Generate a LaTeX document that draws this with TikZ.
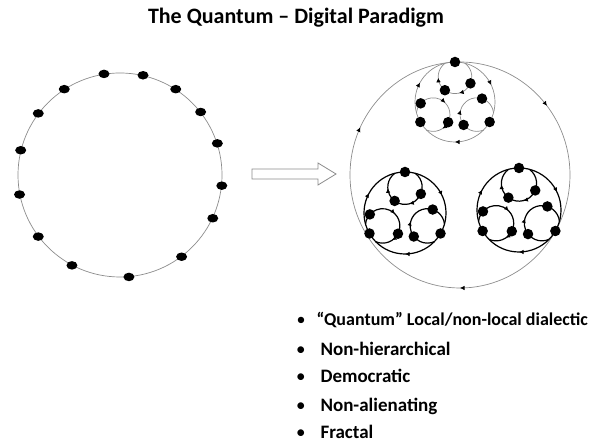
\documentclass[tikz,border=0pt]{standalone}
\usepackage{fontspec}
\setmainfont{Carlito}
\usetikzlibrary{shapes.geometric,decorations.markings,arrows.meta}
\begin{document}
\begin{tikzpicture}[x=1pt,y=1pt,
  thinln/.style={draw=black!45, line width=0.7pt},
  thickln/.style={draw=black, line width=1.2pt},
  bigdot/.style={ellipse, fill=black, minimum width=11pt, minimum height=8.5pt, inner sep=0pt},
  cdot/.style={circle, fill=black, minimum size=10.5pt, inner sep=0pt},
  flow/.style={postaction={decorate,decoration={markings,mark=at position #1 with {\arrowreversed[black]{Latex[length=4.5pt,width=4.5pt]}}}}},
  itemtxt/.style={anchor=base west, font=\bfseries\fontsize{19}{21}\selectfont},
]
\useasboundingbox (0,0) rectangle (595,446);

% title
\node[font=\bfseries\fontsize{22}{25}\selectfont] (title) at (296,428) {The Quantum – Digital Paradigm};

% left ring with 15 dots
\node[circle, thinln, minimum size=204pt, inner sep=0pt] (ring) at (120,271) {};
\foreach \a [count=\i] in {99.8,77.3,57.8,38.6,18.3,-6.1,-25.8,-53.1,-85.4,-118.1,-143.8,-169.8,166.8,143.2,123.2}
  \node[bigdot] (d\i) at (ring.\a) {};

% block arrow
\draw[thinln, line width=0.8pt] (252,267) -- (318,267) -- (318,261) -- (336,272) -- (318,283) -- (318,277) -- (252,277) -- cycle;

% big right ring
\draw[thinln, flow=0.106, flow=0.43, flow=0.75] (460,271) ellipse [x radius=110, y radius=113];

% clusters
\foreach \n/\x/\y/\R/\sty in {T/455/344/40/thinln, L/405/233/41/thickln, R/519/236/42/thickln}{
  \begin{scope}[shift={(\x,\y)}]
    \draw[\sty, flow=0.07, flow=0.42, flow=0.75] (0,0) circle [radius=\R];
    \foreach \p/\ia/\ib [count=\k] in {90/233/-23, 210/138/-27, 330/72/218}{
      \draw[\sty, flow=0.2, flow=0.55] ([shift={({\p}:{0.63*\R})}]{\p+36}:{0.42*\R})
        arc[start angle={\p+36}, end angle={\p+324}, radius={0.42*\R}];
      \node[cdot] (\n\k o) at ({\p}:{\R}) {};
      \node[cdot] (\n\k a) at ([shift={({\p}:{0.63*\R})}]{\ia}:{0.42*\R}) {};
      \node[cdot] (\n\k b) at ([shift={({\p}:{0.63*\R})}]{\ib}:{0.42*\R}) {};
    }
  \end{scope}
}

% bullet list
\node[anchor=base west, font=\bfseries\fontsize{18}{21}\selectfont] (i1) at (313,120) {\llap{\mdseries\textbullet\hspace{11pt}}“Quantum” Local/non-local dialectic};
\node[itemtxt] (i2) at (317,90) {\llap{\mdseries\textbullet\hspace{15pt}}Non-hierarchical};
\node[itemtxt] (i3) at (317,63) {\llap{\mdseries\textbullet\hspace{15pt}}Democratic};
\node[itemtxt] (i4) at (317,34) {\llap{\mdseries\textbullet\hspace{15pt}}Non-alienating};
\node[itemtxt] (i5) at (317,7) {\llap{\mdseries\textbullet\hspace{15pt}}Fractal};
\end{tikzpicture}
\end{document}
